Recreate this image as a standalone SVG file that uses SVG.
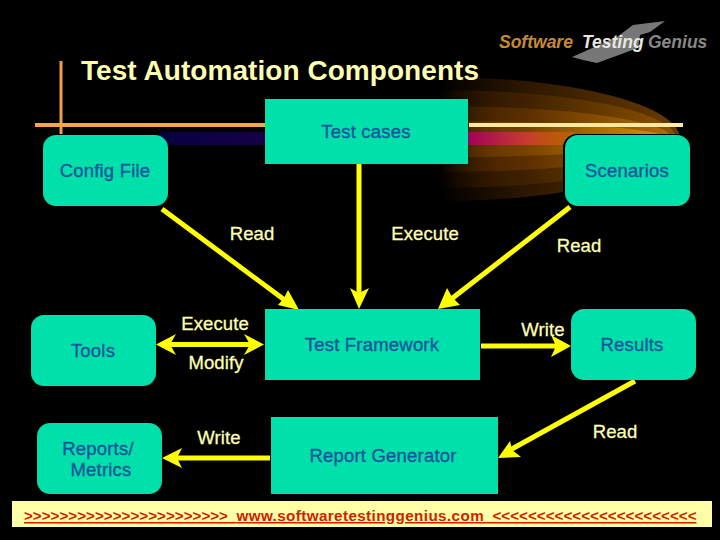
<svg xmlns="http://www.w3.org/2000/svg" width="720" height="540" viewBox="0 0 720 540">
<defs>
<style>
.n{fill:#00e0ab}
.t{font-family:"Liberation Sans",Arial,sans-serif;font-size:18.500px;fill:#17559a;text-anchor:middle;stroke:#17559a;stroke-width:.35;letter-spacing:.2px}
.l{font-family:"Liberation Sans",Arial,sans-serif;font-size:18.500px;fill:#ffffb0;text-anchor:middle;stroke:#ffffb0;stroke-width:.3;letter-spacing:.1px}
.c{stroke:#ffff00;stroke-width:5;fill:none}
.h{fill:#ffff00}
.logo{font-family:"Liberation Sans",Arial,sans-serif;font-size:17.500px;font-weight:700;font-style:italic}
</style>
<linearGradient id="g1" gradientUnits="userSpaceOnUse" x1="440" x2="680" y1="0" y2="0"><stop offset="0" stop-color="#2c1600" stop-opacity="0"/><stop offset=".35" stop-color="#2c1600"/><stop offset="1" stop-color="#6a3c00"/></linearGradient>
<linearGradient id="g2" gradientUnits="userSpaceOnUse" x1="440" x2="680" y1="0" y2="0"><stop offset="0" stop-color="#3e2000" stop-opacity="0"/><stop offset=".35" stop-color="#3e2000"/><stop offset="1" stop-color="#8e5400"/></linearGradient>
<linearGradient id="g3" gradientUnits="userSpaceOnUse" x1="440" x2="680" y1="0" y2="0"><stop offset="0" stop-color="#5a2e00" stop-opacity="0"/><stop offset=".35" stop-color="#5a2e00"/><stop offset="1" stop-color="#b87008"/></linearGradient>
<linearGradient id="g5" gradientUnits="userSpaceOnUse" x1="440" x2="680" y1="0" y2="0"><stop offset="0" stop-color="#784000" stop-opacity="0"/><stop offset=".35" stop-color="#784000"/><stop offset="1" stop-color="#e09810"/></linearGradient>
<linearGradient id="g4" gradientUnits="userSpaceOnUse" x1="160" x2="575" y1="0" y2="0"><stop offset="0" stop-color="#060040"/><stop offset=".55" stop-color="#2c0050"/><stop offset=".74" stop-color="#a0005a"/><stop offset=".88" stop-color="#c83a30"/><stop offset="1" stop-color="#e07000" stop-opacity=".4"/></linearGradient>
<clipPath id="gc"><rect x="440" y="60" width="260" height="160"/></clipPath>
</defs>
<rect width="720" height="540" fill="#000"/>
<g id="glow">
<g clip-path="url(#gc)">
<ellipse cx="440" cy="139" rx="240" ry="62" fill="url(#g1)"/>
<ellipse cx="440" cy="139" rx="236" ry="49" fill="url(#g2)"/>
<ellipse cx="440" cy="139" rx="232" ry="33" fill="url(#g3)"/>
<ellipse cx="440" cy="139" rx="228" ry="18" fill="url(#g5)"/>
</g>
<rect x="160" y="132" width="415" height="13" fill="url(#g4)"/>
</g>
<g id="logo">
<polygon points="572,57 617,37 633,25 665,21 650,32 640,35 638,48 597,63 583,60" fill="#777"/>
<text class="logo" x="499" y="48" fill="#c88a30">Software</text>
<text class="logo" x="582" y="48" fill="#e8e8e0">Testing</text>
<text class="logo" x="648" y="48" fill="#888">Genius</text>
</g>
<g id="rules">
<rect x="59.500" y="61" width="3" height="73" fill="#f0a040"/>
<rect x="35" y="123" width="230" height="4" fill="#f0a850"/>
<rect x="469" y="123" width="214" height="4" fill="#ffe8a0"/>
</g>
<text id="title" x="81" y="80" font-family="'Liberation Sans',Arial,sans-serif" font-size="28" font-weight="700" fill="#ffffb0" textLength="398">Test Automation Components</text>
<g id="connectors">
<line class="c" x1="162" y1="209" x2="286" y2="301"/><polygon class="h" points="299,310 278,305 284,298 288,290"/>
<line class="c" x1="359" y1="164" x2="359" y2="298"/><polygon class="h" points="359,309 350,288 359,293 369,288"/>
<line class="c" x1="570" y1="207" x2="450" y2="300"/><polygon class="h" points="438,309 447,288 452,297 460,305"/>
<line class="c" x1="170" y1="344.500" x2="254" y2="344.500"/><polygon class="h" points="156,344.500 176,334 170,344.500 176,355"/><polygon class="h" points="264,344.500 244,334 250,344.500 244,355"/>
<line class="c" x1="481" y1="346" x2="560" y2="346"/><polygon class="h" points="571,346 551,335 556,346 551,357"/>
<line class="c" x1="635" y1="381" x2="510" y2="450"/><polygon class="h" points="498,458 510,441 512,450 521,457"/>
<line class="c" x1="270" y1="458" x2="175" y2="458"/><polygon class="h" points="162,458 182,448 177,458 182,468"/>
</g>
<g id="test-cases"><rect class="n" x="265" y="99" width="203" height="65"/><text class="t" x="366" y="138">Test cases</text></g>
<g id="config-file"><rect class="n" x="43" y="135" width="125" height="71" rx="13"/><text class="t" x="105" y="177">Config File</text></g>
<g id="scenarios"><rect x="563" y="134" width="128" height="73" rx="14" fill="#000"/><rect class="n" x="565" y="135" width="125" height="71" rx="13"/><text class="t" x="627" y="177">Scenarios</text></g>
<g id="tools"><rect class="n" x="31" y="315" width="125" height="71" rx="13"/><text class="t" x="93" y="357">Tools</text></g>
<g id="test-framework"><rect class="n" x="265" y="309" width="215" height="71"/><text class="t" x="372" y="351">Test Framework</text></g>
<g id="results"><rect class="n" x="571" y="309" width="125" height="71" rx="13"/><text class="t" x="632" y="351">Results</text></g>
<g id="reports"><rect class="n" x="37" y="423" width="125" height="71" rx="13"/><text class="t" x="98" y="455">Reports/</text><text class="t" x="101" y="476">Metrics</text></g>
<g id="report-generator"><rect class="n" x="271" y="417" width="227" height="77"/><text class="t" x="383" y="462">Report Generator</text></g>
<g id="labels">
<text class="l" x="252" y="240">Read</text>
<text class="l" x="425" y="240">Execute</text>
<text class="l" x="579" y="252">Read</text>
<text class="l" x="215" y="330">Execute</text>
<text class="l" x="216" y="369">Modify</text>
<text class="l" x="543" y="336">Write</text>
<text class="l" x="219" y="444">Write</text>
<text class="l" x="615" y="438">Read</text>
</g>
<g id="footer">
<rect x="12" y="501" width="700" height="26" fill="#ffffa8"/>
<text x="24" y="521" font-family="'Liberation Sans',Arial,sans-serif" font-size="15.200" font-weight="700" fill="#d02000" text-decoration="underline" xml:space="preserve">&gt;&gt;&gt;&gt;&gt;&gt;&gt;&gt;&gt;&gt;&gt;&gt;&gt;&gt;&gt;&gt;&gt;&gt;&gt;&gt;&gt;&gt;&gt;  <tspan letter-spacing=".41">www.softwaretestinggenius.com</tspan>  &lt;&lt;&lt;&lt;&lt;&lt;&lt;&lt;&lt;&lt;&lt;&lt;&lt;&lt;&lt;&lt;&lt;&lt;&lt;&lt;&lt;&lt;&lt;</text>
</g>
</svg>
